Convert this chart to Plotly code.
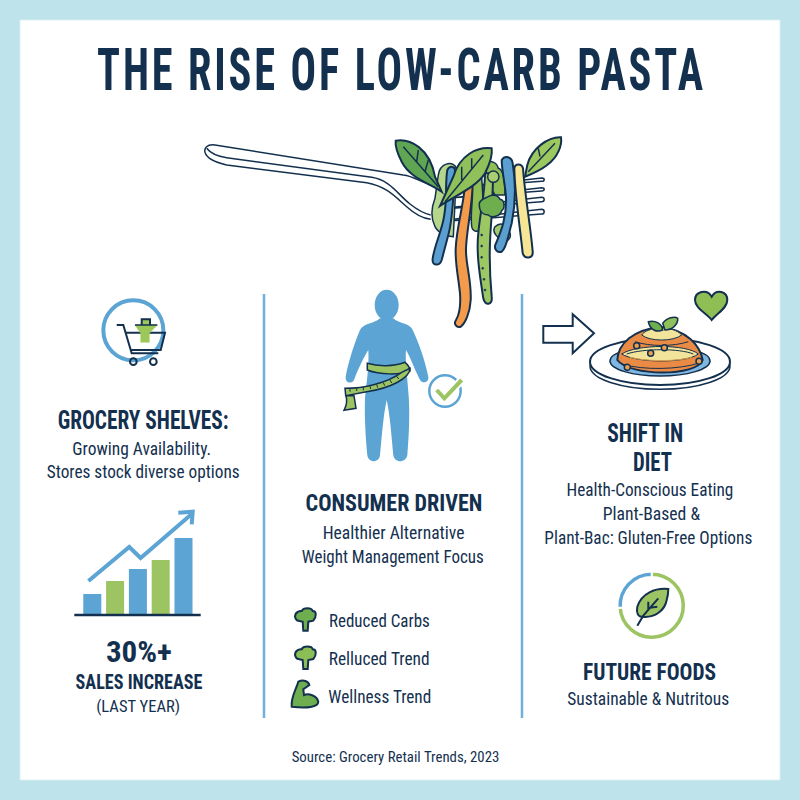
import json
import re
import plotly.graph_objects as go

NAVY = '#14304f'
BLUE = '#5ba4d4'
GREEN = '#9cc463'
DARK_GREEN = '#6fae4f'
FONT = 'Roboto Condensed'

# sales icon, small bar chart
sales_periods = [0, 1, 2, 3, 4]
sales_values = [20, 33, 45, 54, 76]
trend_x = [-0.17, 1.62, 2.12, 4.36]
trend_y = [33, 67, 56, 100]

# future foods ring
ring_labels = ['Green', 'Blue']
ring_values = [74, 26]


def tr(d, ox, oy, s=1 / 3):
    parts = re.findall(r'[MLCQZ]|-?[\d.]+', d)
    out, is_x = [], True
    for p in parts:
        if p.isalpha():
            out.append(p)
            is_x = True
        else:
            out.append(f'{(ox if is_x else oy) + float(p) * s:.1f}')
            is_x = not is_x
    return ' '.join(out)


shapes = []
annotations = []
widths = []


def add(d, ox, oy, fill=None, line=NAVY, w=1.5):
    shapes.append(dict(type='path', path=tr(d, ox, oy), xref='x', yref='y', layer='above',
                       fillcolor=fill if fill else 'rgba(0,0,0,0)',
                       line=dict(color=line, width=w)))


def dot(cx, cy, r, ox, oy, fill=None, line=NAVY, w=1.5, ry=None):
    ry = ry if ry else r
    shapes.append(dict(type='circle', xref='x', yref='y', layer='above',
                       x0=ox + (cx - r) / 3, x1=ox + (cx + r) / 3,
                       y0=oy + (cy - ry) / 3, y1=oy + (cy + ry) / 3,
                       fillcolor=fill if fill else 'rgba(0,0,0,0)',
                       line=dict(color=line, width=w)))


def label(text, x, y, size, width, bold=False, spacing=0):
    # width is the width the line has in the reference, see squeeze below
    body = f'<b>{text}</b>' if bold else text
    if spacing:
        body = f'<span style="letter-spacing:{spacing}px">{body}</span>'
    annotations.append(dict(text=body, x=x, y=y, xref='x', yref='y', xanchor='center', yanchor='middle',
                            showarrow=False, font=dict(family=FONT, size=size, color=NAVY)))
    widths.append(width)


# page panel and dividers
shapes.append(dict(type='rect', xref='x', yref='y', x0=20, x1=780, y0=20, y1=780,
                   fillcolor='white', line=dict(color='#d8f0f4', width=1), layer='below'))
for x in [264, 522]:
    shapes.append(dict(type='line', xref='x', yref='y', x0=x, x1=x, y0=294, y1=718,
                       line=dict(color='#6fb1d8', width=2.5)))

# fork
o = (190, 120)
add('M 730 198 C 690 185 670 168 640 165 L 75 75 C 50 72 42 85 45 97 C 50 115 80 128 110 135 '
    'L 530 188 C 590 198 620 235 650 260 C 670 278 695 295 722 298', *o)
add('M 50 85 C 65 105 90 110 110 113 L 545 172 C 600 180 625 225 660 252 C 680 268 700 280 722 285', *o)
for y0, y1 in [(174, 184), (203, 213), (232, 245), (268, 282)]:
    add(f'M 790 {y0 + 30} L 1055 {y0} C 1065 {y0} 1065 {y1} 1055 {y1} L 790 {y1 + 20} Z', *o, fill='white')

# pasta strands
add('M 745 165 C 750 130 785 120 800 145 L 790 350 C 770 350 745 340 735 320 C 720 290 725 260 735 235 Z',
    *o, fill='#b6d68c')
add('M 772 150 C 780 135 795 140 795 150 C 790 220 790 290 775 345 L 755 420 C 748 440 725 438 728 415 '
    'C 735 370 755 335 762 290 C 772 240 765 190 772 150 Z', *o, fill='#5b9fd0', w=2)
add('M 890 130 C 900 120 920 125 925 145 C 945 150 945 200 945 225 L 915 225 C 900 200 880 170 890 130 Z',
    *o, fill='#8fbe55')
add('M 825 195 L 848 195 C 845 270 830 330 828 385 C 826 430 845 480 842 540 C 840 580 825 610 812 620 '
    'C 800 625 790 612 798 600 C 810 580 812 550 810 520 C 805 470 795 430 797 385 C 800 320 820 260 825 195 Z',
    *o, fill='#f39a4b', w=2)
add('M 848 190 L 875 175 C 880 230 880 290 872 325 C 865 340 848 335 845 320 C 840 280 850 240 848 190 Z',
    *o, fill='#8fbe55')
add('M 885 160 L 910 160 L 905 285 C 900 350 895 420 905 530 C 908 555 885 560 880 535 C 870 470 858 400 865 340 '
    'C 870 280 885 220 885 160 Z', *o, fill='#9cc763', w=2)
for cx, cy in [(875, 345), (875, 378), (875, 412), (878, 445), (882, 478), (885, 510)]:
    dot(cx, cy, 3, *o, fill=NAVY, w=0.5)
dot(910, 170, 17, *o, fill='#a9cf72')
add('M 915 320 C 930 305 950 310 960 340 C 965 360 950 365 935 360 C 920 350 905 335 915 320 Z',
    *o, fill='#a4c96b')
add('M 868 255 C 865 240 885 235 895 230 C 905 222 925 225 930 238 C 945 240 945 265 935 272 '
    'C 930 290 905 295 895 285 C 880 285 868 275 868 255 Z', *o, fill=DARK_GREEN)
add('M 935 120 C 945 105 965 110 968 130 C 978 190 975 260 965 310 C 955 345 950 385 935 395 '
    'C 920 400 910 385 918 370 C 935 330 950 290 948 230 C 945 190 935 150 935 120 Z', *o, fill='#5b9fd0', w=2)
add('M 973 145 C 975 130 995 130 999 145 C 1005 230 1022 320 1028 395 C 1030 415 1005 420 998 400 '
    'C 990 320 975 230 973 145 Z', *o, fill='#f5e594', w=2)

# leaves on the fork
add('M 617 62 C 660 55 720 85 735 170 L 755 215 C 720 190 660 175 635 125 C 622 100 615 80 617 62 Z',
    *o, fill='#5fa552', w=2)
add('M 640 80 L 745 200 M 680 125 L 685 90 M 705 155 L 715 120', *o)
add('M 905 85 C 860 80 810 105 790 170 L 750 258 C 800 225 860 200 885 160 C 900 130 908 105 905 85 Z',
    *o, fill='#8fc05a', w=2)
add('M 880 105 L 765 245 M 845 145 L 845 115 M 815 180 L 815 140', *o)
add('M 1113 52 C 1075 50 1025 85 1012 135 L 1005 170 C 1045 155 1090 130 1105 95 C 1112 80 1115 65 1113 52 Z',
    *o, fill='#9cc85f', w=2)
add('M 1095 70 L 1015 155 M 1050 110 L 1045 85', *o)

# person with tape
o = (330, 285)
dot(170, 60, 36, *o, fill=BLUE, line=BLUE, w=0, ry=46)
add('M 150 100 C 135 115 100 115 90 135 C 75 170 55 230 47 275 C 45 295 65 298 72 285 C 85 250 105 210 115 195 '
    'C 118 240 110 290 105 340 C 103 400 108 470 112 510 C 115 535 148 535 150 510 C 155 460 160 390 170 345 '
    'C 180 390 185 460 190 510 C 193 535 228 535 232 510 C 238 440 240 370 235 320 C 232 270 225 230 228 195 '
    'C 240 215 255 255 270 285 C 278 298 298 292 295 275 C 285 225 265 170 248 135 C 240 115 205 115 190 100 Z',
    *o, fill=BLUE, line=BLUE, w=0)
add('M 112 235 C 145 245 190 245 225 232 C 235 240 240 250 240 258 C 210 270 150 270 112 255 Z', *o, fill=GREEN)
add('M 48 332 L 72 332 L 78 370 L 42 376 C 50 360 52 345 48 332 Z', *o, fill=GREEN)
add('M 240 250 C 240 280 180 310 110 320 L 47 332 L 45 310 C 100 310 170 295 215 262 Z', *o, fill=GREEN)
add('M 60 310 L 60 320 M 80 308 L 80 318 M 100 306 L 100 316 M 120 303 L 122 312 M 140 299 L 143 308 '
    'M 160 293 L 164 302 M 180 285 L 185 294 M 200 274 L 206 282', *o, w=1)
dot(345, 318, 47, *o, line=BLUE, w=2.5)
add('M 320 315 L 343 340 L 395 285', *o, line='white', w=8)
add('M 320 315 L 343 340 L 395 285', *o, line=GREEN, w=4)

# arrow, plate, heart
o = (530, 280)
add('M 40 138 L 128 138 L 128 103 L 192 160 L 128 220 L 128 188 L 40 188 Z', *o, fill='white', w=2)
dot(390, 258, 210, *o, fill='white', w=1.5, ry=70)
dot(390, 245, 210, *o, fill='white', w=2, ry=70)
dot(390, 243, 150, *o, fill='#7fb7e0', w=1.5, ry=45)
add('M 262 240 C 265 190 310 150 390 140 C 470 150 510 195 518 240 C 500 290 300 290 262 240 Z',
    *o, fill='#e98a45', w=2)
add('M 335 165 C 350 140 430 135 455 165 C 430 185 360 185 335 165 Z', *o, fill='#f2e59b', w=1)
add('M 275 222 C 320 192 470 192 505 222 C 470 250 320 250 275 222 Z', *o, fill='#f2e59b', w=1)
add('M 290 222 C 340 205 450 205 490 222', *o, line=NAVY, w=1)
add('M 300 232 C 350 245 440 245 485 232', *o, line='#d9a14f', w=1)
add('M 315 185 C 360 200 430 200 475 185', *o, line=NAVY, w=1)
add('M 275 252 C 340 272 450 268 505 250', *o, line=NAVY, w=1)
add('M 355 125 C 375 120 395 130 398 150 C 380 158 360 150 355 125 Z', *o, fill=DARK_GREEN)
add('M 398 130 C 410 112 435 108 443 115 C 445 135 425 150 405 150 Z', *o, fill='#8fc05a')
for cx, cy in [(292, 262), (507, 244), (362, 220), (403, 203), (320, 197)]:
    dot(cx, cy, 9, *o, fill='#e9a04f')
add('M 545 120 C 530 100 495 85 495 60 C 495 35 530 25 545 50 C 560 25 592 35 592 60 C 592 85 560 100 545 120 Z',
    *o, fill='#8fbe55', w=2)

# cart badge
o = (90, 290)
dot(130, 121, 90, *o, line=BLUE, w=4)
add('M 80 105 L 100 105 L 125 190 L 205 190', *o, w=2)
add('M 105 128 L 225 128 L 212 180 L 122 180', *o, w=2)
dot(130, 215, 10, *o, w=2)
dot(190, 215, 10, *o, w=2)
add('M 135 105 L 155 105 L 155 88 L 180 88 L 180 105 L 202 105 L 178 130 L 178 157 L 152 157 L 152 130 Z',
    *o, fill='#9cc85a', line='#9cc85a', w=0.5)
add('M 155 105 L 155 88 L 180 88 L 180 105', *o, w=2)
add('M 135 105 L 202 105', *o, w=1.5)

# list icons
o = (280, 600)
broc = ('M 45 {a} C 45 {b} 60 {c} 65 {d} C 70 {e} 95 {e} 98 {d} C 110 {d} 110 {a} 100 {f} L 85 {g} L 83 {h} '
        'L 70 {h} L 68 {g} L 55 {f} C 48 {f} 45 {a} 45 {a} Z')
for dy, col in [(0, DARK_GREEN), (115, '#8bbf55')]:
    add(broc.format(a=50 + dy, b=35 + dy, c=32 + dy, d=33 + dy, e=22 + dy, f=62 + dy, g=65 + dy, h=92 + dy),
        *o, fill=col, w=2)
add('M 35 320 C 32 290 50 265 55 245 C 70 238 85 243 88 255 L 70 268 L 72 285 C 85 280 110 285 115 305 '
    'C 115 322 80 325 35 320 Z', *o, fill=DARK_GREEN, w=2)

# leaf in the ring
o = (600, 565)
add('M 205 72 C 165 68 125 85 112 125 C 108 145 115 155 125 155 C 165 160 195 135 200 105 C 203 95 205 85 205 72 Z',
    *o, fill=GREEN, w=2)
add('M 112 182 L 130 152 L 175 100 M 145 135 L 145 110 M 150 128 L 172 125', *o, w=2)

# sales chart baseline and arrow head
add('M 43 375 L 422 375', 60, 490, w=2.5)
add('M 355 68 L 398 65 L 395 103', 60, 490, line=BLUE, w=4)

label('THE RISE OF LOW-CARB PASTA', 401.5, 69, 60, 609, bold=True, spacing=4)
label('GROCERY SHELVES:', 142.8, 420, 25, 171, bold=True)
label('Growing Availability.', 141.5, 448, 19, 139)
label('Stores stock diverse options', 142.5, 471, 19, 193)
label('30%+', 139, 651, 30, 66, bold=True)
label('SALES INCREASE', 138.5, 682, 20, 127, bold=True)
label('(LAST YEAR)', 138, 706, 17, 84)
label('CONSUMER DRIVEN', 393.5, 503, 23, 177, bold=True)
label('Healthier Alternative', 393, 532, 19, 142)
label('Weight Management Focus', 393, 556, 19, 182)
label('Reduced Carbs', 379, 620, 19, 101)
label('Relluced Trend', 379, 658, 19, 101)
label('Wellness Trend', 380, 696, 19, 103)
label('SHIFT IN', 644.7, 433.5, 25, 76, bold=True)
label('DIET', 652, 462.5, 25, 39, bold=True)
label('Health-Conscious Eating', 649.7, 489, 19, 167)
label('Plant-Based &', 651, 513, 19, 98)
label('Plant-Bac: Gluten-Free Options', 648, 537, 19, 208)
label('FUTURE FOODS', 649.5, 672, 23, 133, bold=True)
label('Sustainable & Nutritous', 648, 698, 19, 162)
label('Source: Grocery Retail Trends, 2023', 395, 757, 14.5, 208)

fig = go.Figure()
fig.add_trace(go.Scatter(x=[], y=[], xaxis='x', yaxis='y', showlegend=False))
fig.add_trace(go.Bar(x=sales_periods, y=sales_values, marker=dict(color=[BLUE, GREEN, BLUE, GREEN, BLUE], line=dict(width=0)),
                     xaxis='x2', yaxis='y2', showlegend=False))
fig.add_trace(go.Scatter(x=trend_x, y=trend_y, mode='lines', line=dict(color=BLUE, width=4),
                         xaxis='x2', yaxis='y2', showlegend=False))
fig.add_trace(go.Pie(labels=ring_labels, values=ring_values, hole=0.84, sort=False, direction='clockwise',
                     rotation=0, marker=dict(colors=[GREEN, BLUE], line=dict(color='white', width=2)),
                     textinfo='none', showlegend=False,
                     domain=dict(x=[617.4 / 800, 686 / 800], y=[1 - 640 / 800, 1 - 571.4 / 800])))

hidden = dict(visible=False, showgrid=False, zeroline=False, fixedrange=True)
fig.update_layout(
    width=800, height=800, autosize=False,
    margin=dict(l=0, r=0, t=0, b=0),
    paper_bgcolor='#bee3ea', plot_bgcolor='rgba(0,0,0,0)',
    bargap=0.21,
    xaxis=dict(range=[0, 800], domain=[0, 1], **hidden),
    yaxis=dict(range=[800, 0], domain=[0, 1], **hidden),
    xaxis2=dict(domain=[80.9 / 800, 194.9 / 800], range=[-0.5, 4.5], anchor='y2', **hidden),
    yaxis2=dict(domain=[1 - 614 / 800, 1 - 510 / 800], range=[0, 104], anchor='x2', **hidden),
    shapes=shapes,
    annotations=annotations,
)

# no narrow enough font is installed, so squeeze each line to its reference width
squeeze = """
document.body.style.margin = '0';
var widths = %s;
document.querySelectorAll('.annotation').forEach(function (a) {
    var t = a.querySelector('text.annotation-text');
    var w = widths[+a.getAttribute('data-index')];
    t.style.transformBox = 'fill-box';
    t.style.transformOrigin = 'center';
    t.style.transform = 'scaleX(' + w / t.getBBox().width + ')';
});
""" % json.dumps(widths)

fig.write_html("out.html", post_script=squeeze, config=dict(displayModeBar=False))
